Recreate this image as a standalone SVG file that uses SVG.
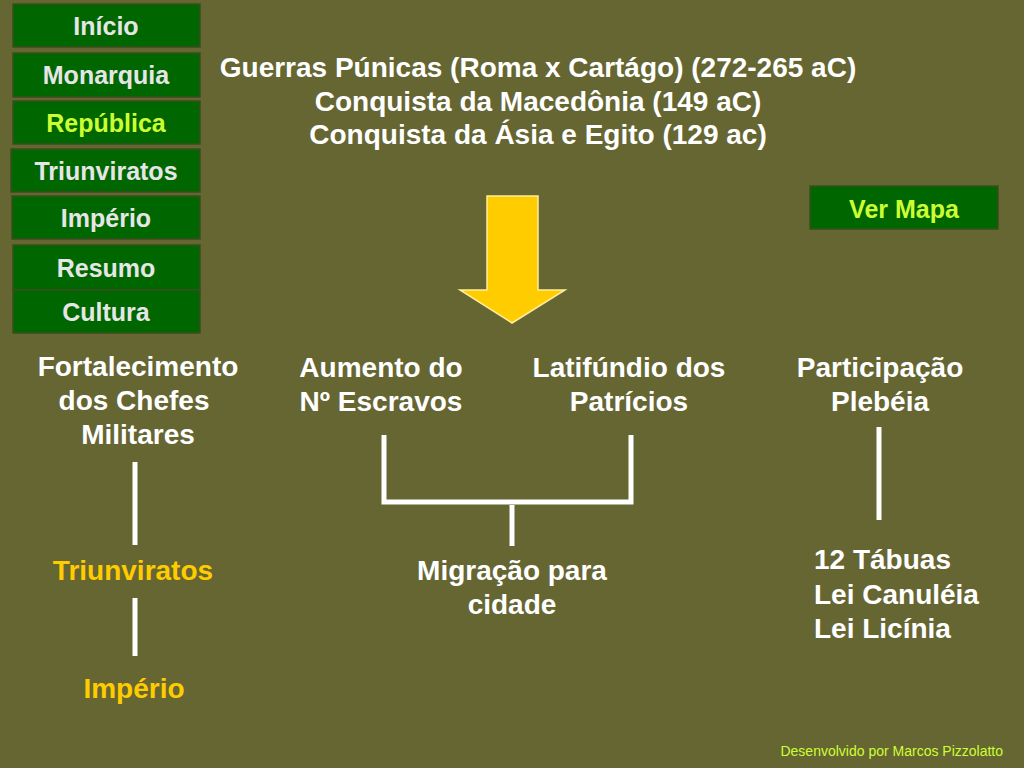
<svg xmlns="http://www.w3.org/2000/svg" width="1024" height="768" viewBox="0 0 1024 768">
<style>
.btn{fill:#006600;stroke:#3d4d1f;stroke-width:1.5}
.bt{font-family:"Liberation Sans",Arial,sans-serif;font-weight:bold;font-size:25px;fill:#e6e6e6;text-anchor:middle}
.hl{fill:#ccff33}
.t{font-family:"Liberation Sans",Arial,sans-serif;font-weight:bold;font-size:28px;fill:#ffffff;text-anchor:middle}
.y{fill:#ffcc00}
.ln{stroke:#ffffff;stroke-width:5;fill:none}
</style>
<rect width="1024" height="768" fill="#666633"/>
<g id="nav-inicio"><rect class="btn" x="13" y="4" width="187" height="43"/><text class="bt" x="106" y="35">Início</text></g>
<g id="nav-monarquia"><rect class="btn" x="13" y="53" width="187" height="44"/><text class="bt" x="106" y="84">Monarquia</text></g>
<g id="nav-republica"><rect class="btn" x="13" y="101" width="187" height="43"/><text class="bt hl" x="106" y="132">República</text></g>
<g id="nav-triunviratos"><rect class="btn" x="11" y="149" width="189" height="43"/><text class="bt" x="106" y="180">Triunviratos</text></g>
<g id="nav-imperio"><rect class="btn" x="12" y="196" width="188" height="43"/><text class="bt" x="106" y="227">Império</text></g>
<g id="nav-resumo"><rect class="btn" x="13" y="245" width="187" height="45"/><text class="bt" x="106" y="277">Resumo</text></g>
<g id="nav-cultura"><rect class="btn" x="13" y="290" width="187" height="43"/><text class="bt" x="106" y="321">Cultura</text></g>
<g id="ver-mapa"><rect class="btn" x="810" y="186" width="188" height="43"/><text class="bt hl" x="904" y="218">Ver Mapa</text></g>
<g id="title">
<text class="t" x="538" y="77">Guerras Púnicas (Roma x Cartágo) (272-265 aC)</text>
<text class="t" x="538" y="111">Conquista da Macedônia (149 aC)</text>
<text class="t" x="538" y="144">Conquista da Ásia e Egito (129 ac)</text>
</g>
<g id="arrow"><polygon points="487,196 538,196 538,290 565,290 512,323 460,290 487,290" fill="#ffcc00" stroke="#ffee99" stroke-width="1.5"/></g>
<g id="fortalecimento"><text class="t" x="138" y="376">Fortalecimento</text><text class="t" x="134" y="410">dos Chefes</text><text class="t" x="138" y="444">Militares</text></g>
<g id="aumento"><text class="t" x="381" y="377">Aumento do</text><text class="t" x="381" y="411">Nº Escravos</text></g>
<g id="latifundio"><text class="t" x="629" y="377">Latifúndio dos</text><text class="t" x="629" y="411">Patrícios</text></g>
<g id="participacao"><text class="t" x="880" y="377">Participação</text><text class="t" x="880" y="411">Plebéia</text></g>
<g id="triunviratos"><text class="t y" x="133" y="580">Triunviratos</text></g>
<g id="imperio"><text class="t y" x="134" y="698">Império</text></g>
<g id="migracao"><text class="t" x="512" y="580">Migração para</text><text class="t" x="512" y="614">cidade</text></g>
<g id="leis" font-family="Liberation Sans,Arial,sans-serif" font-weight="bold" font-size="28" fill="#ffffff">
<text x="814" y="569">12 Tábuas</text><text x="814" y="604">Lei Canuléia</text><text x="814" y="638">Lei Licínia</text>
</g>
<g id="connectors">
<line class="ln" x1="135" y1="462" x2="135" y2="545"/>
<line class="ln" x1="135" y1="598" x2="135" y2="656"/>
<line class="ln" x1="879" y1="427" x2="879" y2="520"/>
<polyline class="ln" points="384,435 384,502 631,502 631,435"/>
<line class="ln" x1="512" y1="505" x2="512" y2="546"/>
</g>
<text x="1003" y="756" font-family="Liberation Sans,Arial,sans-serif" font-size="14" fill="#ccff33" text-anchor="end">Desenvolvido por Marcos Pizzolatto</text>
</svg>
